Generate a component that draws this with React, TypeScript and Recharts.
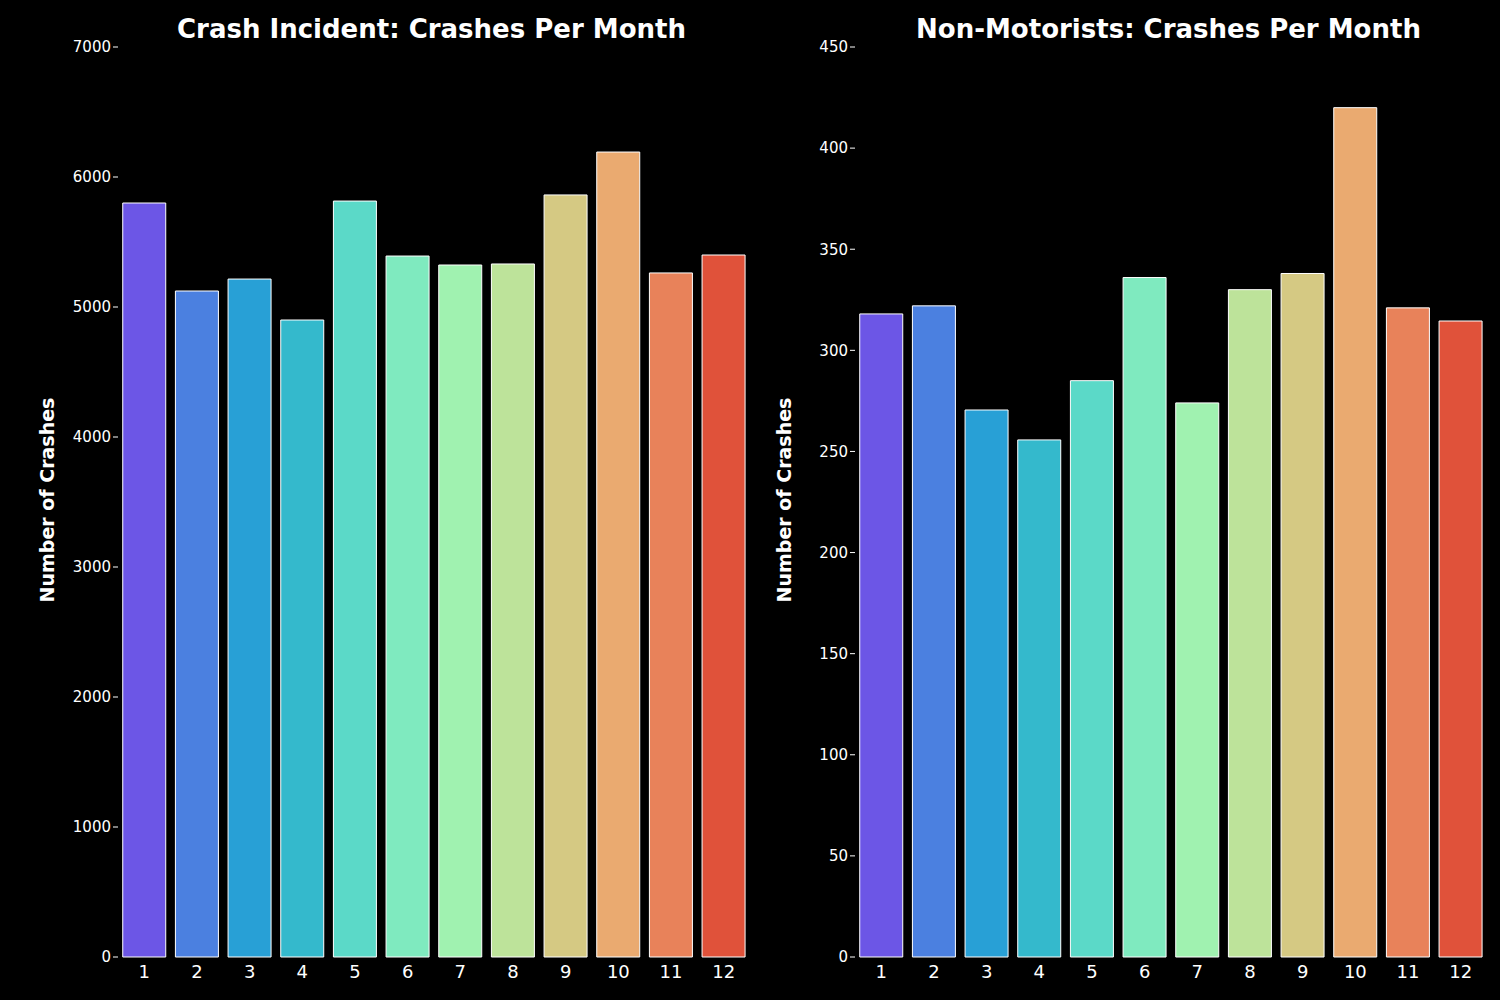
import { BarChart, Bar, XAxis, YAxis, Cell } from 'recharts';

const months = ['1', '2', '3', '4', '5', '6', '7', '8', '9', '10', '11', '12'];
const crashes = [5800, 5123, 5215, 4900, 5815, 5392, 5323, 5331, 5862, 6192, 5262, 5400];
const nonMotorists = [318, 322, 270.5, 255.7, 285, 336, 274, 330, 338, 420, 321, 314.5];
const colors = ['#6c56e6', '#4b80e0', '#28a0d6', '#34b9cc', '#5bd9c8', '#7feabf', '#a0f2b0', '#bde39a', '#d5c983', '#eaaa70', '#e8825a', '#e0523a'];
const leftTicks = [0, 1000, 2000, 3000, 4000, 5000, 6000, 7000];
const rightTicks = [0, 50, 100, 150, 200, 250, 300, 350, 400, 450];

const font = 'DejaVu Sans, sans-serif';

const Panel = ({ title, values, ticks, max, left }: { title: string; values: number[]; ticks: number[]; max: number; left: number }) => {
  const data = months.map((m, i) => ({ month: m, value: values[i] }));
  return (
    <div style={{ position: 'absolute', left, top: 0, width: 750, height: 1000 }}>
      <div style={{ position: 'absolute', top: 14, left: 118, width: 627, textAlign: 'center', color: '#fff', fontWeight: 'bold', fontSize: 26 }}>{title}</div>
      <div style={{ position: 'absolute', left: 47, top: 500, transform: 'translate(-50%,-50%) rotate(-90deg)', color: '#fff', fontWeight: 'bold', fontSize: 19, whiteSpace: 'nowrap' }}>Number of Crashes</div>
      <BarChart width={750} height={1000} data={data} margin={{ top: 17, right: 0, bottom: 13, left: 58 }} barCategoryGap="9%">
        <XAxis dataKey="month" xAxisId="b" axisLine={false} tickLine={false} tick={{ fill: '#fff', fontSize: 18 }} height={30} />
        <XAxis dataKey="month" xAxisId="t" orientation="top" axisLine={false} tick={false} tickSize={5} stroke="#fff" height={30} />
        <YAxis yAxisId="l" domain={[0, max]} ticks={ticks} axisLine={false} tickSize={5} stroke="#fff" tick={{ fill: '#fff', fontSize: 15 }} width={60} />
        <YAxis yAxisId="r" orientation="right" domain={[0, max]} ticks={ticks} axisLine={false} tickSize={5} stroke="#fff" tick={false} width={5} mirror />
        <Bar dataKey="value" xAxisId="b" yAxisId="l" stroke="#fff" strokeWidth={1} isAnimationActive={false}>
          {data.map((d, i) => <Cell key={d.month} fill={colors[i]} />)}
        </Bar>
      </BarChart>
    </div>
  );
};

export default function App() {
  return (
    <div style={{ position: 'fixed', left: 0, top: 0, width: 1500, height: 1000, background: '#000', fontFamily: font }}>
      <Panel title="Crash Incident: Crashes Per Month" values={crashes} ticks={leftTicks} max={7000} left={0} />
      <Panel title="Non-Motorists: Crashes Per Month" values={nonMotorists} ticks={rightTicks} max={450} left={737} />
    </div>
  );
}
